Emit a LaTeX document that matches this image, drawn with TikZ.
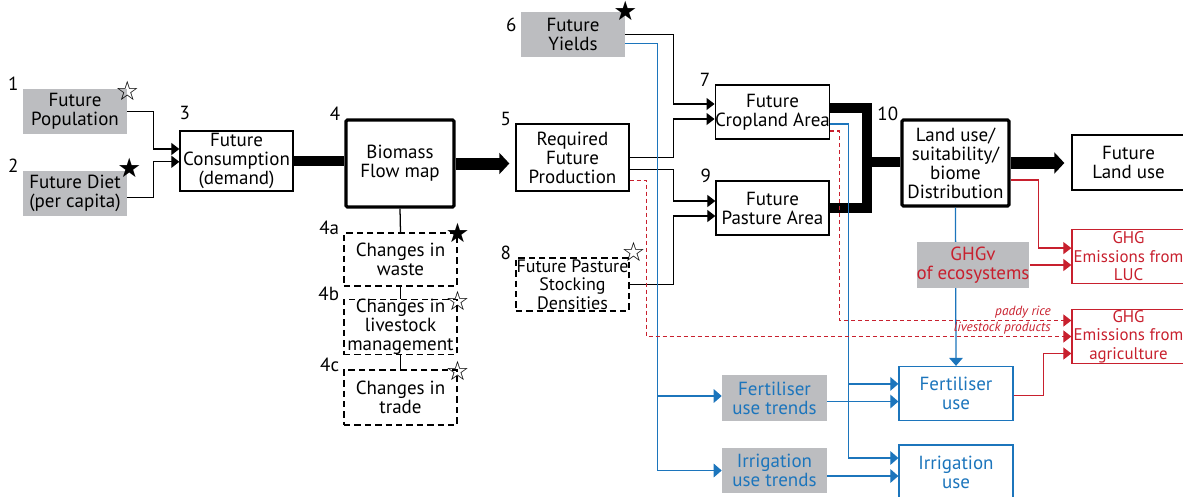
\documentclass[tikz,border=0pt]{standalone}
\usepackage{fontspec}
\setmainfont{PT Sans}
\newfontfamily\starfont{DejaVu Sans}
\usetikzlibrary{arrows.meta,calc}

\definecolor{boxgray}{RGB}{188,189,192}
\definecolor{flowblue}{RGB}{28,117,188}
\definecolor{ghgred}{RGB}{200,32,46}

\tikzset{
  every node/.style={font=\fontsize{13.5}{13.5}\selectfont, align=center, inner sep=0pt},
  box/.style={rectangle, draw, line width=0.9pt, minimum width=2.825cm, minimum height=1.35cm},
  bigbox/.style={rectangle, draw, line width=2.2pt, rounded corners=1pt, minimum width=2.7cm, minimum height=2.175cm},
  dashbox/.style={box, dash pattern=on 1.6mm off 1mm},
  graybox/.style={rectangle, fill=boxgray, minimum width=2.6cm, minimum height=1.125cm},
  bluebox/.style={box, draw=flowblue, text=flowblue, minimum width=2.85cm},
  redbox/.style={box, draw=ghgred, text=ghgred, font=\fontsize{12}{13.2}\selectfont},
  numlbl/.style={anchor=south east, inner sep=0pt, xshift=-0.1cm, yshift=-0.06cm},
  openstar/.style={font=\starfont\fontsize{19}{19}\selectfont, inner sep=0pt},
  conn/.style={line width=0.9pt, -{Triangle[length=2mm, width=3mm]}},
  link/.style={line width=0.9pt},
  bconn/.style={conn, draw=flowblue, -{Triangle[length=2mm, width=3.4mm]}, color=flowblue},
  rconn/.style={conn, draw=ghgred, color=ghgred},
  rdash/.style={rconn, dash pattern=on 1mm off 0.75mm},
  bus/.style={line width=0.27cm},
  busarrow/.style={line width=0.3cm, -{Triangle[length=2.5mm, width=5.2mm]}},
  smalllbl/.style={font=\fontsize{9.5}{9.5}\selectfont\itshape, text=ghgred, inner sep=1pt}
}

\begin{document}
\begin{tikzpicture}[x=0.025cm, y=-0.025cm]

  \useasboundingbox (0,0) rectangle (1183,496);

  % inputs on the left
  \node [graybox, label={[numlbl]north west:1}] (pop)  at (75,111.5)  {Future\\Population};
  \node [graybox, label={[numlbl]north west:2}] (diet) at (75,193.5)  {Future Diet\\(per capita)};
  \node [box, minimum height=1.5cm, label={[anchor=south west, yshift=0.27cm]north west:3}] (cons) at (236.5,161) {Future\\Consumption\\(demand)};
  \node [bigbox, label={[numlbl]north west:4}] (bio) at (400,163.5) {Biomass\\Flow map};
  \node [box, minimum height=1.675cm, label={[numlbl]north west:5}] (req) at (572.5,157.5) {Required\\Future\\Production};

  % changes under the flow map
  \node [dashbox, minimum height=1.325cm, label={[numlbl]north west:4a}] (waste) at (400.5,259.5) {Changes in\\waste};
  \node [dashbox, label={[numlbl]north west:4b}] (live)  at (400.5,327)   {Changes in\\livestock\\management};
  \node [dashbox, minimum height=1.375cm, label={[numlbl]north west:4c}] (trade) at (400.5,397.5) {Changes in\\trade};

  % middle column
  \node [graybox, label={[numlbl, yshift=-0.45cm]north west:6}] (yields) at (573,34.5) {Future\\Yields};
  \node [box, label={[numlbl]north west:7}] (crop) at (772.5,112) {Future\\Cropland Area};
  \node [box, label={[numlbl]north west:9}] (past) at (772.5,208) {Future\\Pasture Area};
  \node [dashbox, minimum height=1.325cm, font=\fontsize{12.8}{13.2}\selectfont, label={[numlbl]north west:8}] (stock) at (572.5,284.5) {Future Pasture\\Stocking\\Densities};

  % right side
  \node [bigbox, minimum width=2.675cm, minimum height=2.15cm, label={[numlbl, xshift=0.05cm]north west:10}] (land) at (955.5,163) {Land use/\\suitability/\\biome\\Distribution};
  \node [box, minimum height=1.375cm] (fut) at (1128.5,162.5) {Future\\Land use};
  \node [redbox] (luc) at (1128.5,256.5) {GHG\\Emissions from\\LUC};
  \node [redbox] (agr) at (1128.5,336.5) {GHG\\Emissions from\\agriculture};

  \node [graybox, text=flowblue, minimum width=2.625cm, minimum height=1.15cm] (fert) at (774.5,398)   {Fertiliser\\use trends};
  \node [graybox, text=flowblue, minimum width=2.625cm] (irrt) at (774.5,470.5) {Irrigation\\use trends};
  \node [bluebox] (fertu) at (956,393.5) {Fertiliser\\use};
  \node [bluebox] (irru)  at (956,472)   {Irrigation\\use};

  % stars
  \node [openstar] (popstar)   at ([yshift=-0.06cm]pop.north east)    {☆};
  \node [openstar] (dietstar)  at ([xshift=0.05cm,yshift=0.08cm]diet.north east)   {★};
  \node [openstar] (wastestar) at ([yshift=-0.02cm]waste.north east)  {★};
  \node [openstar] (livestar)  at ([yshift=-0.05cm]live.north east)   {☆};
  \node [openstar] (tradestar) at ([yshift=-0.05cm]trade.north east)  {☆};
  \node [openstar] (yieldstar) at ([yshift=0.02cm]yields.north east)  {★};
  \node [openstar] (stockstar) at ([xshift=0.1cm,yshift=0.14cm]stock.north east) {☆};

  % black connectors
  \draw [conn] (pop.east) -- ++(26,0) |- ([yshift=0.3cm]cons.west);
  \draw [conn] ([yshift=-0.1cm]diet.east) -- ++(26,0) |- ([yshift=-0.02cm]cons.west);
  \draw [bus] (cons.east) -- (cons.east -| bio.west);
  \draw [busarrow, shorten >=0.15cm] (bio.east) -- (bio.east -| req.west);

  \draw [link] (bio.south) -- (waste.north);
  \draw [link] (waste.south) -- (live.north);
  \draw [link] (live.south) -- (trade.north);

  \draw [conn] (yields.east) -- ++(48,0) |- ([yshift=0.2cm]crop.west);
  \draw [conn] (req.east) -- ++(44,0) |- ([yshift=-0.175cm]crop.west);
  \draw [conn] ([yshift=-0.3cm]req.east) -- ++(44,0) |- ([yshift=0.175cm]past.west);
  \draw [conn] (stock.east) -- ++(44,0) |- ([yshift=-0.2cm]past.west);

  % thick bus into land use
  \coordinate (hub) at (867,162);
  \draw [bus] ([yshift=0.1cm]crop.east) -| (hub) |- (past.east);
  \draw [bus] (hub) -- (hub -| land.west);
  \draw [busarrow, shorten >=0.175cm] (land.east) -- (land.east -| fut.west);

  % blue connectors
  \draw [bconn] ([yshift=-0.225cm]yields.east) -- ++(32,0) coordinate (yv) |- (irrt.west);
  \draw [bconn] (yv) |- ([yshift=0.05cm]fert.west);
  \draw [bconn] ([yshift=-0.3cm]crop.east) -- ++(18,0) coordinate (cv) |- ([yshift=0.35cm]irru.west);
  \draw [bconn] (cv) |- ([yshift=0.24cm]fertu.west);
  \coordinate (fu2) at ([yshift=-0.2cm]fertu.west);
  \coordinate (iu2) at ([yshift=-0.1cm]irru.west);
  \draw [bconn] (fert.east |- fu2) -- (fu2);
  \draw [bconn] (irrt.east |- iu2) -- (iu2);
  \draw [bconn] (land.south) -- (fertu.north);

  \node [graybox, text=ghgred, minimum width=2.65cm, minimum height=1.15cm] (ghgv) at (973,265) {GHGv\\of ecosystems};

  % red connectors
  \draw [rconn] ([yshift=-0.425cm]land.east) -- ++(28,0) |- ([yshift=0.21cm]luc.west);
  \draw [rconn] (ghgv.east) -- (ghgv.east -| luc.west);
  \draw [rconn] ([yshift=-0.05cm]fertu.east) -- ++(30,0) |- ([yshift=-0.425cm]agr.west);
  \draw [rdash] ([yshift=-0.475cm]crop.east) -- ++(9,0) |- node[smalllbl, pos=0.96, anchor=south east] {paddy rice} ([yshift=0.4cm]agr.west);
  \draw [rdash] ([yshift=-0.575cm]req.east) -- ++(17,0) |- node[smalllbl, pos=0.978, anchor=south east] {livestock products} (agr.west);

\end{tikzpicture}
\end{document}
